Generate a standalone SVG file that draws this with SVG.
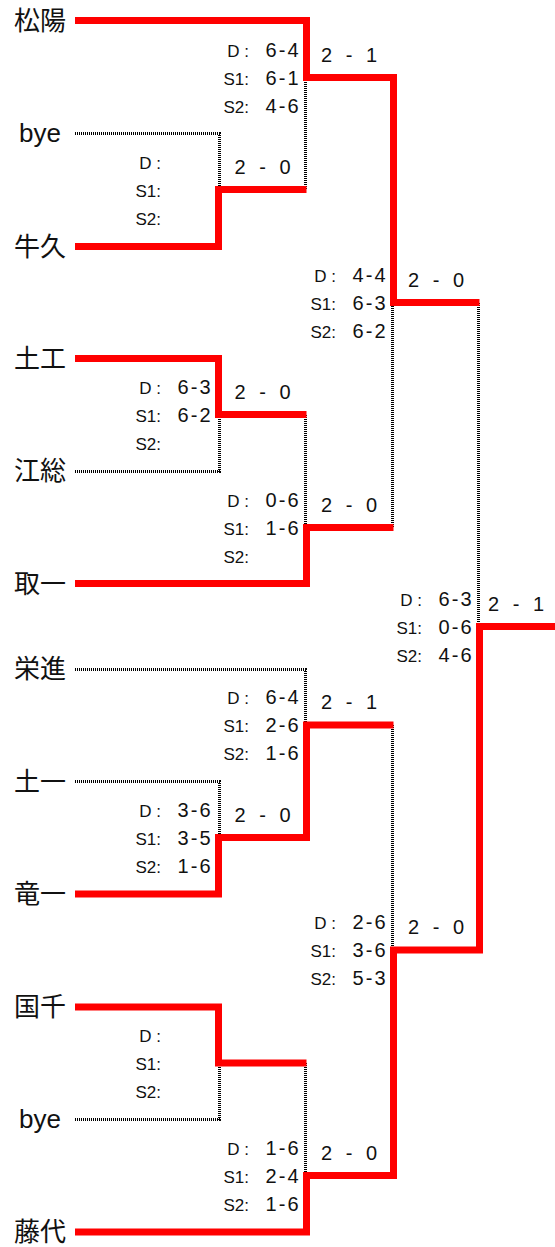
<svg xmlns="http://www.w3.org/2000/svg" width="555" height="1247" viewBox="0 0 555 1247">
<style>
text{font-family:"Liberation Sans","Noto Sans CJK JP",sans-serif;fill:#111}
.name{font-size:26px;text-anchor:middle}
.lbl{font-size:17px;text-anchor:end}
.sc{font-size:20px;text-anchor:end;letter-spacing:2px}
.res{font-size:20px;text-anchor:middle;letter-spacing:4px}
.win{stroke:#ff0000;stroke-width:7;fill:none;stroke-linejoin:miter;stroke-linecap:butt}
.lose{stroke:#000;stroke-width:3;stroke-dasharray:1 1;fill:none;shape-rendering:crispEdges}
</style>
<rect width="555" height="1247" fill="#fff"/>
<g id="connectors">
<path class="lose" d="M75,133.5 H219.5 V189"/>
<path class="lose" d="M305.5,189 V78"/>
<path class="lose" d="M75,471.5 H219.5 V415"/>
<path class="lose" d="M305.5,415 V527"/>
<path class="lose" d="M392.5,527 V303"/>
<path class="lose" d="M478.5,303 V626"/>
<path class="lose" d="M75,669.5 H305.5 V725"/>
<path class="lose" d="M75,781.5 H219.5 V837"/>
<path class="lose" d="M392.5,725 V950"/>
<path class="lose" d="M75,1119.5 H219.5 V1063"/>
<path class="lose" d="M305.5,1063 V1175"/>
<path class="win" d="M75,20.5 H306.5 V77.5 H393.5 V302.5 H479.5"/>
<path class="win" d="M75,246.5 H218.5 V189.5 H306.5"/>
<path class="win" d="M75,358.5 H218.5 V414.5 H306.5"/>
<path class="win" d="M75,583.5 H306.5 V527.5 H393.5"/>
<path class="win" d="M75,894 H218.5 V837.5 H306.5 V725 H393.5"/>
<path class="win" d="M75,1007 H218.5 V1063 H306.5"/>
<path class="win" d="M75,1232 H306.5 V1175.5 H393.5 V950 H479.5 V626.5 H555"/>
</g>
<g id="team-shoyo"><text class="name" x="40" y="29.5">松陽</text></g>
<g id="team-bye1"><text class="name" x="40" y="142">bye</text></g>
<g id="team-ushiku"><text class="name" x="40" y="255.5">牛久</text></g>
<g id="team-doko"><text class="name" x="40" y="367.5">土工</text></g>
<g id="team-koso"><text class="name" x="40" y="480">江総</text></g>
<g id="team-toride1"><text class="name" x="40" y="592.5">取一</text></g>
<g id="team-eishin"><text class="name" x="40" y="678">栄進</text></g>
<g id="team-tsuchiura1"><text class="name" x="40" y="791">土一</text></g>
<g id="team-ryugasaki1"><text class="name" x="40" y="903">竜一</text></g>
<g id="team-kokuchi"><text class="name" x="40" y="1016">国千</text></g>
<g id="team-bye2"><text class="name" x="40" y="1128">bye</text></g>
<g id="team-fujishiro"><text class="name" x="40" y="1241">藤代</text></g>

<g id="match-r1a">
<text class="lbl" x="161" y="168.5">D :</text><text class="lbl" x="161" y="196.5">S1:</text><text class="lbl" x="161" y="224.5">S2:</text>
<text class="res" x="264.5" y="173.5">2 - 0</text>
</g>
<g id="match-r2a">
<text class="lbl" x="249" y="56.5">D :</text><text class="lbl" x="249" y="84.5">S1:</text><text class="lbl" x="249" y="112.5">S2:</text>
<text class="sc" x="300.5" y="56.5">6-4</text><text class="sc" x="300.5" y="84.5">6-1</text><text class="sc" x="300.5" y="112.5">4-6</text>
<text class="res" x="351" y="61.5">2 - 1</text>
</g>
<g id="match-r3a">
<text class="lbl" x="336" y="281.5">D :</text><text class="lbl" x="336" y="309.5">S1:</text><text class="lbl" x="336" y="337.5">S2:</text>
<text class="sc" x="387.5" y="281.5">4-4</text><text class="sc" x="387.5" y="309.5">6-3</text><text class="sc" x="387.5" y="337.5">6-2</text>
<text class="res" x="438" y="286.5">2 - 0</text>
</g>
<g id="match-r1b">
<text class="lbl" x="161" y="393.5">D :</text><text class="lbl" x="161" y="421.5">S1:</text><text class="lbl" x="161" y="449.5">S2:</text>
<text class="sc" x="212.5" y="393.5">6-3</text><text class="sc" x="212.5" y="421.5">6-2</text>
<text class="res" x="264.5" y="398.5">2 - 0</text>
</g>
<g id="match-r2b">
<text class="lbl" x="249" y="506.5">D :</text><text class="lbl" x="249" y="534.5">S1:</text><text class="lbl" x="249" y="562.5">S2:</text>
<text class="sc" x="300.5" y="506.5">0-6</text><text class="sc" x="300.5" y="534.5">1-6</text>
<text class="res" x="351" y="511.5">2 - 0</text>
</g>
<g id="match-final">
<text class="lbl" x="422" y="605.5">D :</text><text class="lbl" x="422" y="633.5">S1:</text><text class="lbl" x="422" y="661.5">S2:</text>
<text class="sc" x="473.5" y="605.5">6-3</text><text class="sc" x="473.5" y="633.5">0-6</text><text class="sc" x="473.5" y="661.5">4-6</text>
<text class="res" x="518" y="610.5">2 - 1</text>
</g>
<g id="match-r2c">
<text class="lbl" x="249" y="704">D :</text><text class="lbl" x="249" y="732">S1:</text><text class="lbl" x="249" y="760">S2:</text>
<text class="sc" x="300.5" y="704">6-4</text><text class="sc" x="300.5" y="732">2-6</text><text class="sc" x="300.5" y="760">1-6</text>
<text class="res" x="351" y="709">2 - 1</text>
</g>
<g id="match-r1c">
<text class="lbl" x="161" y="816.5">D :</text><text class="lbl" x="161" y="844.5">S1:</text><text class="lbl" x="161" y="872.5">S2:</text>
<text class="sc" x="212.5" y="816.5">3-6</text><text class="sc" x="212.5" y="844.5">3-5</text><text class="sc" x="212.5" y="872.5">1-6</text>
<text class="res" x="264.5" y="821.5">2 - 0</text>
</g>
<g id="match-r3b">
<text class="lbl" x="336" y="929">D :</text><text class="lbl" x="336" y="957">S1:</text><text class="lbl" x="336" y="985">S2:</text>
<text class="sc" x="387.5" y="929">2-6</text><text class="sc" x="387.5" y="957">3-6</text><text class="sc" x="387.5" y="985">5-3</text>
<text class="res" x="438" y="934">2 - 0</text>
</g>
<g id="match-r1d">
<text class="lbl" x="161" y="1042">D :</text><text class="lbl" x="161" y="1070">S1:</text><text class="lbl" x="161" y="1098">S2:</text>
</g>
<g id="match-r2d">
<text class="lbl" x="249" y="1154.5">D :</text><text class="lbl" x="249" y="1182.5">S1:</text><text class="lbl" x="249" y="1210.5">S2:</text>
<text class="sc" x="300.5" y="1154.5">1-6</text><text class="sc" x="300.5" y="1182.5">2-4</text><text class="sc" x="300.5" y="1210.5">1-6</text>
<text class="res" x="351" y="1159.5">2 - 0</text>
</g>
</svg>
